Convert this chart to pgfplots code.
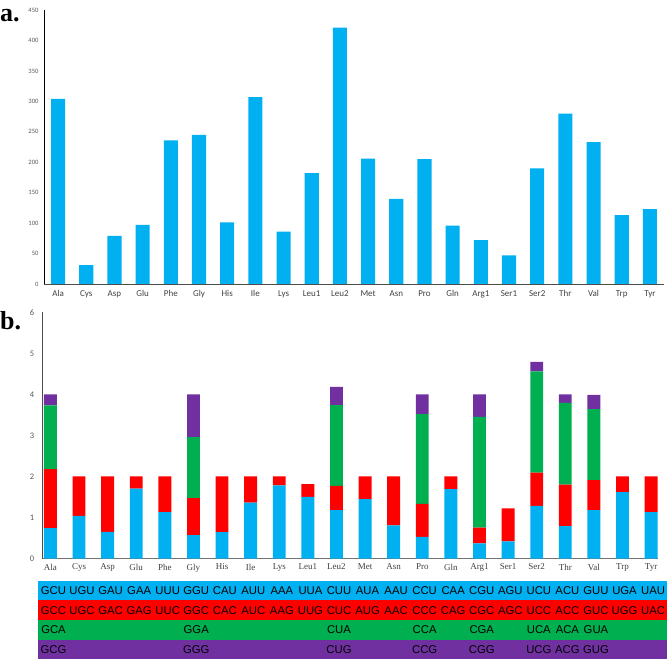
\documentclass[border=0pt]{standalone}
\usepackage{fontspec}
\setmainfont{Liberation Serif}
\newfontfamily\calibri{Carlito}
\newfontfamily\arial{Liberation Sans}
\usepackage{pgfplots}
\pgfplotsset{compat=1.18}
\usepackage{pgfplotstable}

\definecolor{cblue}{HTML}{00B0F0}
\definecolor{cred}{HTML}{FF0000}
\definecolor{cgreen}{HTML}{00B050}
\definecolor{cpurple}{HTML}{7030A0}
\definecolor{labgray}{HTML}{404040}
\definecolor{tickgray}{HTML}{595959}

% a: number of codons per amino acid
\pgfplotstableread{
idx count
0 304
1 31
2 79
3 97
4 236
5 245
6 101
7 307
8 86
9 182
10 421
11 206
12 140
13 205
14 96
15 72
16 47
17 190
18 280
19 233
20 113
21 123
}\countdata

% b: stacked RSCU values (U, C, A, G ending)
\pgfplotstableread{
idx b r g p
0 0.74 1.44 1.55 0.27
1 1.04 0.96 0 0
2 0.65 1.35 0 0
3 1.70 0.30 0 0
4 1.13 0.87 0 0
5 0.57 0.90 1.49 1.04
6 0.64 1.36 0 0
7 1.36 0.64 0 0
8 1.78 0.22 0 0
9 1.50 0.31 0 0
10 1.18 0.59 1.97 0.44
11 1.45 0.55 0 0
12 0.81 1.19 0 0
13 0.53 0.80 2.19 0.48
14 1.69 0.31 0 0
15 0.37 0.38 2.70 0.55
16 0.42 0.80 0 0
17 1.28 0.81 2.47 0.23
18 0.79 1.01 1.99 0.21
19 1.18 0.73 1.73 0.35
20 1.62 0.38 0 0
21 1.13 0.87 0 0
}\codondata

\begin{document}
\begin{tikzpicture}
\path[use as bounding box] (0,0) rectangle (669pt,662pt);

\node[anchor=base west, inner sep=0, font=\bfseries\fontsize{26}{28}\selectfont] at (0pt,640.3pt) {a.};
\node[anchor=base west, inner sep=0, font=\bfseries\fontsize{26}{28}\selectfont] at (0pt,332.7pt) {b.};

\begin{axis}[
    at={(44pt,378pt)}, anchor=south west,
    scale only axis, width=620pt, height=274pt,
    xmin=-0.5, xmax=21.5, ymin=0, ymax=450,
    axis lines*=left,
    x axis line style={draw=black!70, line width=0.8pt},
    y axis line style={draw=black, line width=0.8pt},
    major tick length=0pt,
    ytick={0,50,...,450},
    xtick={0,...,21},
    xticklabels={Ala,Cys,Asp,Glu,Phe,Gly,His,Ile,Lys,Leu1,Leu2,Met,Asn,Pro,Gln,Arg1,Ser1,Ser2,Thr,Val,Trp,Tyr},
    /pgf/number format/assume math mode=true,
    yticklabel style={font=\calibri\fontsize{6.6}{7}\selectfont, text=tickgray, xshift=-2pt},
    xticklabel style={font=\calibri\fontsize{9}{10}\selectfont, text=labgray, yshift=-3pt},
    ybar, bar width=0.5,
]
\addplot[draw=none, fill=cblue] table[x=idx, y=count] {\countdata};
\end{axis}

\begin{axis}[
    at={(42.7pt,103.5pt)}, anchor=south west,
    scale only axis, width=615pt, height=246.2pt,
    xmin=-0.27, xmax=21.23, ymin=0, ymax=6,
    axis lines*=left,
    x axis line style={draw=black!55, line width=0.8pt},
    y axis line style={draw=black!70, line width=0.8pt},
    major tick length=0pt,
    ytick={0,...,6},
    xtick={0,...,21},
    xticklabels={Ala,Cys,Asp,Glu,Phe,Gly,His,Ile,Lys,Leu1,Leu2,Met,Asn,Pro,Gln,Arg1,Ser1,Ser2,Thr,Val,Trp,Tyr},
    /pgf/number format/assume math mode=true,
    yticklabel style={font=\calibri\fontsize{8.5}{9}\selectfont, text=tickgray, xshift=-5pt},
    xticklabel style={font=\fontsize{9}{10}\selectfont, text=labgray, yshift=-2pt},
    ybar stacked, bar width=0.45,
]
\addplot[draw=none, fill=cblue] table[x=idx, y=b] {\codondata};
\addplot[draw=none, fill=cred] table[x=idx, y=r] {\codondata};
\addplot[draw=none, fill=cgreen] table[x=idx, y=g] {\codondata};
\addplot[draw=none, fill=cpurple] table[x=idx, y=p] {\codondata};
\end{axis}

% codon table
\fill[cblue]   (38.3pt,61.7pt) rectangle (666.7pt,81.3pt);
\fill[cred]    (38.3pt,42.0pt) rectangle (666.7pt,61.7pt);
\fill[cgreen]  (38.3pt,22.3pt) rectangle (666.7pt,42.0pt);
\fill[cpurple] (38.3pt,2.7pt)  rectangle (666.7pt,22.3pt);

\tikzset{codon/.style={inner sep=0, anchor=center, font=\arial\fontsize{11.3}{13}\selectfont}}
\foreach \c [count=\i from 0] in {GCU,UGU,GAU,GAA,UUU,GGU,CAU,AUU,AAA,UUA,CUU,AUA,AAU,CCU,CAA,CGU,AGU,UCU,ACU,GUU,UGA,UAU}
  \node[codon] at ({53.5pt+28.55pt*\i},71.5pt) {\c};
\foreach \c [count=\i from 0] in {GCC,UGC,GAC,GAG,UUC,GGC,CAC,AUC,AAG,UUG,CUC,AUG,AAC,CCC,CAG,CGC,AGC,UCC,ACC,GUC,UGG,UAC}
  \node[codon] at ({53.5pt+28.55pt*\i},51.85pt) {\c};
\foreach \i/\c in {0/GCA,5/GGA,10/CUA,13/CCA,15/CGA,17/UCA,18/ACA,19/GUA}
  \node[codon] at ({53.5pt+28.55pt*\i},32.15pt) {\c};
\foreach \i/\c in {0/GCG,5/GGG,10/CUG,13/CCG,15/CGG,17/UCG,18/ACG,19/GUG}
  \node[codon] at ({53.5pt+28.55pt*\i},12.5pt) {\c};
\end{tikzpicture}
\end{document}
